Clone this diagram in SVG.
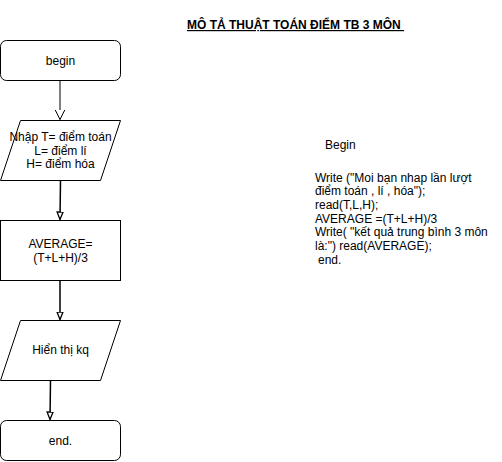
<svg xmlns="http://www.w3.org/2000/svg" width="502" height="462" viewBox="0 0 502 462">
<style>
.shape{fill:#ffffff;stroke:#000000;stroke-width:1}
.t{font-family:"Liberation Sans",Arial,sans-serif;font-size:12px;fill:#000000}
.c{text-anchor:middle}
.edge{fill:none;stroke:#000000}
</style>
<defs>
<marker id="tri" markerWidth="12" markerHeight="12" refX="10" refY="5" orient="auto" markerUnits="userSpaceOnUse" viewBox="0 0 12 12">
<path d="M0,0 L10,5 L0,10 Z" fill="#ffffff" stroke="#000000" stroke-width="1"/>
</marker>
<marker id="tri2" markerWidth="10" markerHeight="10" refX="8" refY="3.5" orient="auto" markerUnits="userSpaceOnUse" viewBox="0 0 10 10">
<path d="M0.5,0.5 L8,3.5 L0.5,6.5 Z" fill="#ffffff" stroke="#000000" stroke-width="1.3"/>
</marker>
</defs>
<rect width="502" height="462" fill="#ffffff"/>
<text class="t" x="187" y="29" font-weight="bold" text-decoration="underline" xml:space="preserve">MÔ TẢ THUẬT TOÁN ĐIỂM TB 3 MÔN </text>
<g id="connectors">
<line class="edge" x1="60" y1="80" x2="60" y2="119.5" marker-end="url(#tri)"/>
<line class="edge" x1="60.5" y1="180" x2="60" y2="219.5" stroke-width="1.5" marker-end="url(#tri2)"/>
<line class="edge" x1="60" y1="280" x2="60" y2="319.5" stroke-width="1.5" marker-end="url(#tri2)"/>
<line class="edge" x1="50.5" y1="380" x2="50" y2="419.5" stroke-width="1.5" marker-end="url(#tri2)"/>
</g>
<g id="begin">
<rect class="shape" x="0.5" y="40.5" width="120" height="40" rx="6" ry="6"/>
<text class="t c" x="60.5" y="64.5">begin</text>
</g>
<g id="input">
<path class="shape" d="M20.5,120.5 L120.5,120.5 L100.5,180.5 L0.5,180.5 Z"/>
<text class="t c" x="60.5" y="141">Nhập T= điểm toán</text>
<text class="t c" x="60.5" y="154.5">L= điểm lí</text>
<text class="t c" x="60.5" y="168">H= điểm hóa</text>
</g>
<g id="average">
<rect class="shape" x="0.5" y="220.5" width="120" height="60"/>
<text class="t c" x="60.5" y="247.5">AVERAGE=</text>
<text class="t c" x="60.5" y="262">(T+L+H)/3</text>
</g>
<g id="output">
<path class="shape" d="M20.5,320.5 L120.5,320.5 L100.5,380.5 L0.5,380.5 Z"/>
<text class="t c" x="60.5" y="354">Hiển thị kq</text>
</g>
<g id="end">
<rect class="shape" x="0.5" y="420.5" width="120" height="40" rx="6" ry="6"/>
<text class="t c" x="60.5" y="444.5">end.</text>
</g>
<g id="description">
<text class="t" x="325" y="149">Begin</text>
<text class="t" x="315" y="181.5">Write ("Moi bạn nhap lần lượt</text>
<text class="t" x="315" y="195.2">điểm toán , lí , hóa");</text>
<text class="t" x="315" y="208.9">read(T,L,H);</text>
<text class="t" x="315" y="222.6">AVERAGE =(T+L+H)/3</text>
<text class="t" x="315" y="236.3">Write( "kết quả trung bình 3 môn</text>
<text class="t" x="315" y="250">là:") read(AVERAGE);</text>
<text class="t" x="318" y="263.7">end.</text>
</g>
</svg>
